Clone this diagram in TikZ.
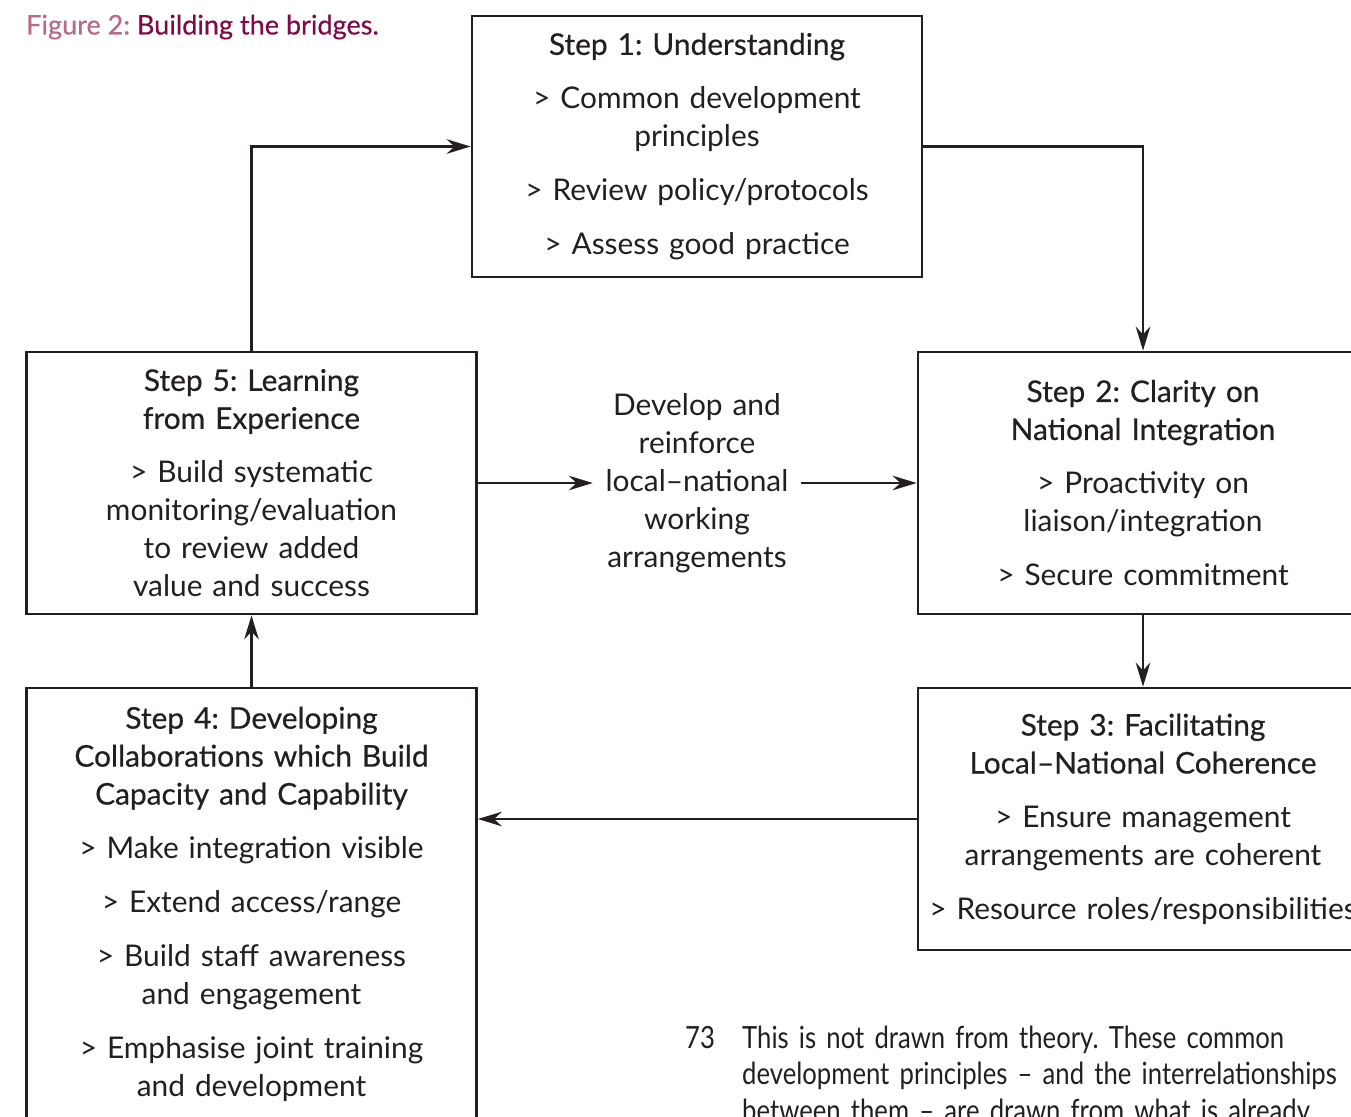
\documentclass[tikz,border=0pt]{standalone}
\usepackage{fontspec}
\setmainfont{Lato}
\newfontfamily\titlefont[FakeBold=0.5,Ligatures=TeX]{Lato}
\newfontfamily\notefont[FakeStretch=0.84,Ligatures=TeX]{Lato}
\newfontfamily\capfont[FakeBold=0.4,Ligatures=TeX]{Lato}
\usepackage{xcolor}
\usetikzlibrary{positioning,arrows.meta}
\definecolor{ink}{HTML}{231F20}
\definecolor{figpink}{HTML}{B46A88}
\definecolor{figred}{HTML}{7D0B45}
\tikzset{every picture/.style={line width=1.4pt}}
\tikzset{
  stepbox/.style={draw=ink,line width=1.6pt,minimum width=9cm,text width=8.7cm,
    align=center,inner sep=0pt,font=\fontsize{17}{21.6}\selectfont,text=ink},
  link/.style={draw=ink,-{Stealth[length=4.8mm,width=2.9mm]}},
  midtext/.style={text width=3.8cm,inner xsep=0.16cm,align=center,
    font=\fontsize{17}{21.6}\selectfont,text=ink}
}
\newcommand{\steptitle}[1]{{\titlefont #1}\\[0.32cm]}
\newcommand{\gap}{\\[0.32cm]}
\frenchspacing

\begin{document}
\begin{tikzpicture}[x=0.02cm,y=-0.02cm]
\useasboundingbox (0,0) rectangle (1351,1116);
\clip (0,0) rectangle (1351,1116);
\node[anchor=west,inner sep=0pt,font=\capfont\fontsize{15.4}{18}\selectfont] (cap) at (25,27)
  {\textcolor{figpink}{Figure 2:} \textcolor{figred}{Building the bridges.}};
%
\node[stepbox,minimum height=5.22cm] (s1) at (697,146.5)
  {\steptitle{Step 1: Understanding}
   > Common development\\ principles\gap
   > Review policy/protocols\gap
   > Assess good practice};
\node[stepbox,minimum height=5.24cm] (s2) at (1143,483)
  {\steptitle{Step 2: Clarity on\\ National Integration}
   > Proactivity on\\ liaison/integration\gap
   > Secure commitment};
\node[stepbox,minimum height=5.24cm] (s3) at (1143,819)
  {\steptitle{Step 3: Facilitating\\ Local\textendash National Coherence}
   > Ensure management\\ arrangements are coherent\gap
   > Resource roles/responsibilities};
\node[stepbox,minimum height=8.64cm] (s4) at (251.5,904)
  {\steptitle{Step 4: Developing\\ Collaborations which Build\\ Capacity and Capability}
   > Make integration visible\gap
   > Extend access/range\gap
   > Build staff awareness\\ and engagement\gap
   > Emphasise joint training\\ and development};
\node[stepbox,minimum height=5.24cm] (s5) at (251.5,483)
  {\steptitle{Step 5: Learning\\ from Experience}
   > Build systematic\\ monitoring/evaluation\\ to review added\\ value and success};
%
\node[midtext] (mid) at (697,483)
  {Develop and\\ reinforce\\ local\textendash national\\ working\\ arrangements};
%
\draw[link] (s5.north) |- (s1.west);
\draw[link] (s1.east) -| (s2.north);
\draw[link] (s2.south) -- (s3.north);
\draw[link] (s3.west) -- (s4.east |- s3.west);
\draw[link] (s4.north) -- (s5.south);
\draw[link] (s5.east) -- (mid.west);
\draw[link] (mid.east) -- (s2.west);
%
\node[anchor=base west,font=\notefont\fontsize{17.4}{21}\selectfont,text=ink,inner sep=0pt]
  (num) at (684,1048) {73};
\node[anchor=base west,font=\notefont\fontsize{17.4}{21}\selectfont,text=ink,inner sep=0pt,
  text width=13cm,align=left] (note) at (741,1048)
  {This is not drawn from theory. These common\\
   development principles \textendash{} and the interrelationships\\
   between them \textendash{} are drawn from what is already};
\end{tikzpicture}
\end{document}
